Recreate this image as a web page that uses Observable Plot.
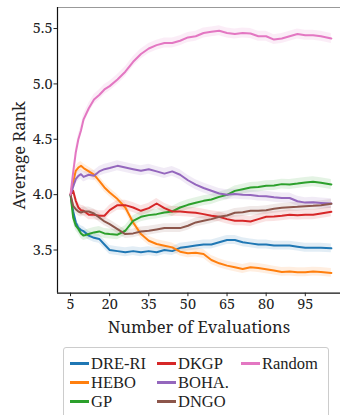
<!DOCTYPE html>
<html>
<head>
<meta charset="utf-8">
<script src="https://cdn.jsdelivr.net/npm/d3@7"></script>
<script src="https://cdn.jsdelivr.net/npm/@observablehq/plot@0.6"></script>
<style>
  html, body { margin: 0; padding: 0; background: #fff; }
  #chart { width: 340px; height: 340px; }
  #legend {
    margin: 7px 0 0 63px; width: 266px; box-sizing: border-box;
    border: 1px solid #ccc; border-radius: 3px; padding: 6px 6px 12px 6px;
    display: grid; grid-template-rows: repeat(3, 19px); grid-auto-flow: column;
    grid-template-columns: 87px 84px auto;
    font-family: "Liberation Serif", serif; font-size: 16.5px; line-height: 18px; color: #222;
  }
  .item { display: flex; align-items: center; white-space: nowrap; height: 19px; line-height: 18px; }
  .sw { width: 19px; height: 2.5px; margin-right: 2px; flex: none; }
</style>
</head>
<body>
<div id="chart"></div>
<div id="legend"></div>
<script>
const evals = [5,6,7,8,9,10,12,14,16,18,20,23,26,29,32,35,38,41,44,47,50,53,56,59,62,65,68,71,74,77,80,83,86,89,92,95,98,101,105];

const dreRI = [4.0,3.85,3.75,3.70,3.68,3.67,3.63,3.61,3.60,3.55,3.50,3.49,3.48,3.49,3.48,3.49,3.48,3.50,3.49,3.52,3.53,3.54,3.55,3.55,3.57,3.59,3.59,3.57,3.56,3.55,3.55,3.54,3.54,3.54,3.53,3.52,3.52,3.52,3.515];
const hebo = [4.0,4.11,4.215,4.245,4.26,4.24,4.21,4.18,4.125,4.065,4.02,3.96,3.884,3.749,3.644,3.584,3.554,3.539,3.524,3.485,3.47,3.476,3.464,3.41,3.38,3.359,3.344,3.329,3.344,3.338,3.326,3.314,3.302,3.305,3.299,3.299,3.305,3.302,3.293];
const gp = [4.0,3.795,3.72,3.69,3.65,3.63,3.644,3.659,3.668,3.65,3.644,3.638,3.674,3.764,3.80,3.815,3.824,3.839,3.848,3.884,3.908,3.926,3.944,3.956,3.98,3.998,4.034,4.049,4.064,4.07,4.08,4.083,4.095,4.092,4.10,4.11,4.116,4.107,4.092];
const dkgp = [4.0,4.035,3.944,3.884,3.86,3.854,3.818,3.818,3.809,3.809,3.86,3.905,3.905,3.884,3.854,3.878,3.92,3.878,3.848,3.848,3.842,3.836,3.824,3.809,3.80,3.779,3.764,3.764,3.758,3.779,3.80,3.803,3.809,3.818,3.815,3.818,3.818,3.83,3.845];
const boha = [4.0,4.071,4.14,4.17,4.185,4.16,4.18,4.17,4.21,4.23,4.24,4.26,4.245,4.23,4.215,4.23,4.21,4.19,4.21,4.18,4.13,4.09,4.06,4.035,4.01,4.0,4.005,4.0,3.997,3.988,3.985,3.976,3.97,3.97,3.94,3.928,3.931,3.925,3.919];
const dngo = [4.0,3.899,3.869,3.848,3.839,3.848,3.848,3.83,3.794,3.758,3.734,3.689,3.644,3.65,3.668,3.674,3.686,3.698,3.698,3.698,3.719,3.749,3.764,3.779,3.80,3.812,3.836,3.842,3.854,3.854,3.86,3.872,3.881,3.887,3.89,3.896,3.899,3.905,3.917];
const random = [4.0,4.2,4.38,4.5,4.58,4.68,4.78,4.86,4.9,4.95,4.98,5.04,5.11,5.2,5.27,5.32,5.35,5.37,5.37,5.39,5.42,5.43,5.46,5.47,5.48,5.46,5.45,5.46,5.455,5.43,5.43,5.40,5.41,5.43,5.45,5.44,5.44,5.43,5.41];

const methods = ["DRE-RI","HEBO","GP","DKGP","BOHA.","DNGO","Random"];
const seriesValues = [dreRI, hebo, gp, dkgp, boha, dngo, random];
const spreads = [0.04,0.04,0.045,0.045,0.045,0.04,0.045];
const colors = ["#1f77b4","#ff7f0e","#2ca02c","#d62728","#9467bd","#8c564b","#e377c2"];

const xDomain = [0, 108.5];
const yDomain = [3.11, 5.69];
const xTicks = [5,20,35,50,65,80,95];
const yTicks = [3.5,4.0,4.5,5.0,5.5];
const xLabel = "Number of Evaluations";
const yLabel = "Average Rank";

const rows = [];
methods.forEach((m, k) => {
  seriesValues[k].forEach((v, i) => {
    rows.push({method: m, x: evals[i], y: v, lo: v - spreads[k], hi: v + spreads[k]});
  });
});

const font = "'Noto Serif', 'Liberation Serif', serif";
const chart = Plot.plot({
  width: 340, height: 340,
  marginLeft: 57, marginRight: 0, marginTop: 7, marginBottom: 47.3,
  style: {fontFamily: font, background: "white", color: "#222", overflow: "visible"},
  x: {domain: xDomain},
  y: {domain: yDomain},
  color: {domain: methods, range: colors},
  marks: [
    Plot.areaY(rows, {x: "x", y1: "lo", y2: "hi", fill: "method", fillOpacity: 0.13, z: "method"}),
    Plot.lineY(rows, {x: "x", y: "y", stroke: "method", z: "method", strokeWidth: 2}),
    Plot.ruleY([yDomain[1]], {stroke: "#999", strokeWidth: 1.2}),
    Plot.ruleX([xDomain[0]], {stroke: "#111", strokeWidth: 1.2}),
    Plot.ruleY([yDomain[0]], {stroke: "#111", strokeWidth: 1.2}),
    Plot.axisX({ticks: xTicks, tickSize: 3.5, tickPadding: 2, fontSize: 14.5, fontFamily: font, label: null}),
    Plot.axisY({ticks: yTicks, tickSize: 3.5, tickPadding: 1.5, fontSize: 14.5, fontFamily: font, tickFormat: d3.format(".1f"), label: null}),
    Plot.text([xLabel], {frameAnchor: "bottom", lineAnchor: "middle", textAnchor: "middle", dy: 35, fontSize: 16.5, fontFamily: font, fill: "#222"}),
    Plot.text([yLabel], {frameAnchor: "left", lineAnchor: "middle", textAnchor: "middle", dx: -38, dy: 5, rotate: -90, fontSize: 16.5, fontFamily: font, fill: "#222"})
  ]
});
document.getElementById("chart").appendChild(chart);

const legend = document.getElementById("legend");
methods.forEach((m, k) => {
  const it = document.createElement("div");
  it.className = "item";
  const sw = document.createElement("span");
  sw.className = "sw";
  sw.style.background = colors[k];
  it.appendChild(sw);
  it.appendChild(document.createTextNode(m));
  legend.appendChild(it);
});
</script>
</body>
</html>
